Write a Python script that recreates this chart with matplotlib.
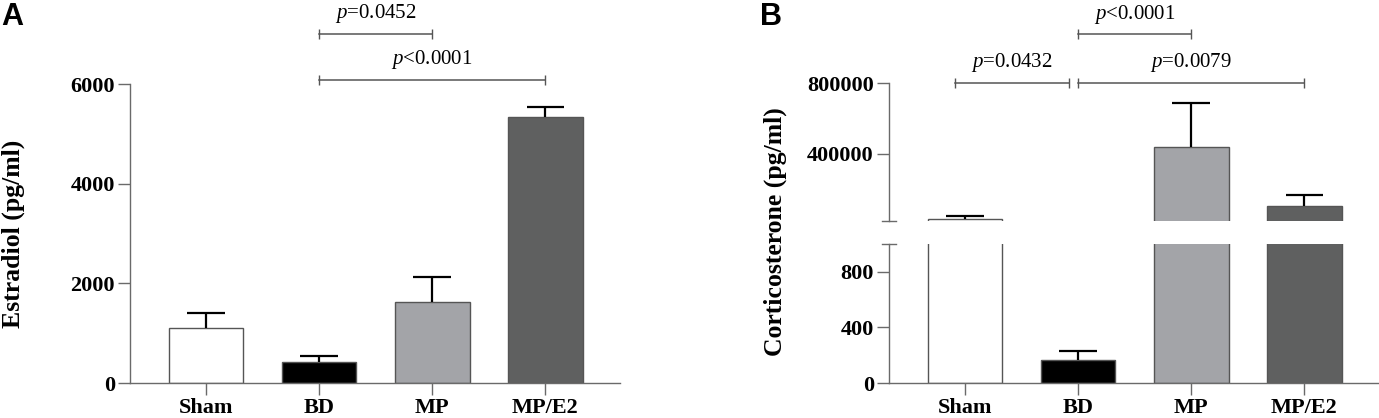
import numpy as np
import matplotlib
matplotlib.use("Agg")
import matplotlib.pyplot as plt

groups = ["Sham", "BD", "MP", "MP/E2"]
bar_colors = ["#ffffff", "#000000", "#a3a4a8", "#5f6060"]

# panel A - estradiol (pg/ml), mean and mean+SEM
estradiol = [1105, 415, 1620, 5340]
estradiol_top = [1405, 550, 2125, 5540]

# panel B - corticosterone (pg/ml), mean and mean+SEM
cort = [32000, 167, 438000, 107500]
cort_top = [47000, 227, 690000, 168000]

# significance brackets: (group i, group j, label, level)
sig_a = [(1, 2, "=0.0452", 7010), (1, 3, "<0.0001", 6086)]
sig_b = [(0, 1, "=0.0432", 803400), (1, 2, "<0.0001", 1080000), (1, 3, "=0.0079", 803400)]

plt.rcParams['font.family'] = ['Liberation Serif', 'DejaVu Serif']
plt.rcParams['mathtext.fontset'] = 'custom'
plt.rcParams['mathtext.rm'] = 'Liberation Serif'
plt.rcParams['mathtext.it'] = 'Liberation Serif:italic'
plt.rcParams['axes.edgecolor'] = '#6a6a6a'
plt.rcParams['axes.linewidth'] = 1.0
plt.rcParams['xtick.color'] = '#6a6a6a'
plt.rcParams['ytick.color'] = '#6a6a6a'
plt.rcParams['xtick.labelcolor'] = 'black'
plt.rcParams['ytick.labelcolor'] = 'black'

EDGE = '#555555'
W = 0.66
x = np.arange(len(groups))

fig = plt.figure(figsize=(13.79, 4.18), dpi=100)

def style(ax):
    ax.spines['top'].set_visible(False)
    ax.spines['right'].set_visible(False)
    ax.tick_params(axis='both', direction='out', length=8.5, width=1.0, labelsize=16, pad=2.5)
    ax.tick_params(axis='x', pad=2)
    for t in ax.get_yticklabels() + ax.get_xticklabels():
        t.set_fontweight('bold')
    ax.set_xlim(-0.67, 3.66)

def draw_bars(ax, vals, tops):
    ax.bar(x, vals, width=W, color=bar_colors, edgecolor=EDGE, linewidth=1.0, zorder=2)
    ax.vlines(x, vals, tops, color='black', lw=1.6, zorder=3)
    ax.hlines(tops, x - 0.165, x + 0.165, color='black', lw=1.6, zorder=3)

def bracket(ax, x1, x2, y, label, ytxt):
    ax.plot([x1, x2], [y, y], color=EDGE, lw=1.1, clip_on=False)
    for xx in (x1, x2):
        ax.plot([xx], [y], marker='|', ms=7, mew=1.0, color=EDGE, clip_on=False)
    ax.text((x1 + x2) / 2, ytxt, "$\\it{p}$" + label, ha='center', va='center',
            fontsize=15, clip_on=False)

# ---------------- panel A
axA = fig.add_axes([0.0943, 0.0837, 0.3553, 0.7153])
draw_bars(axA, estradiol, estradiol_top)
axA.set_ylim(0, 6000)
axA.set_yticks([0, 2000, 4000, 6000])
axA.set_xticks(x)
axA.set_xticklabels(groups)
style(axA)
fig.text(0.0095, 0.44, "Estradiol (pg/ml)", rotation=90, ha='center', va='center',
         fontsize=18.5, fontweight='bold')
for i, j, lab, lev in sig_a:
    bracket(axA, i, j, lev, lab, lev + 400)

# ---------------- panel B (broken axis)
axB_lo = fig.add_axes([0.6447, 0.0837, 0.3553, 0.3326])
axB_hi = fig.add_axes([0.6447, 0.4713, 0.3553, 0.3294])
draw_bars(axB_lo, cort, cort_top)
draw_bars(axB_hi, cort, cort_top)
axB_lo.set_ylim(0, 1000)
axB_lo.set_yticks([0, 400, 800])
axB_lo.set_xticks(x)
axB_lo.set_xticklabels(groups)
axB_hi.set_ylim(20000, 800000)
axB_hi.set_yticks([400000, 800000])
axB_hi.set_yticklabels(["400000", "800000"])
axB_hi.set_xticks([])
axB_hi.spines['bottom'].set_visible(False)
style(axB_lo)
style(axB_hi)

# break marks
for ax, yy in ((axB_lo, 1.0), (axB_hi, 0.0)):
    ax.plot([-0.015, 0.015], [yy, yy], transform=ax.transAxes, color='#6a6a6a', lw=1.0, clip_on=False)

fig.text(0.5625, 0.445, "Corticosterone (pg/ml)", rotation=90, ha='center', va='center',
         fontsize=18.5, fontweight='bold')

for i, j, lab, lev in sig_b:
    x1, x2 = i, j
    if i == 0:
        x1, x2 = i - 0.09, j - 0.08
    bracket(axB_hi, x1, x2, lev, lab, lev + 112000)

fig.text(0.001, 0.96, "A", fontsize=22, fontweight='bold', family='Liberation Sans', va='center')
fig.text(0.551, 0.96, "B", fontsize=22, fontweight='bold', family='Liberation Sans', va='center')

fig.savefig("out.png", dpi=100)
